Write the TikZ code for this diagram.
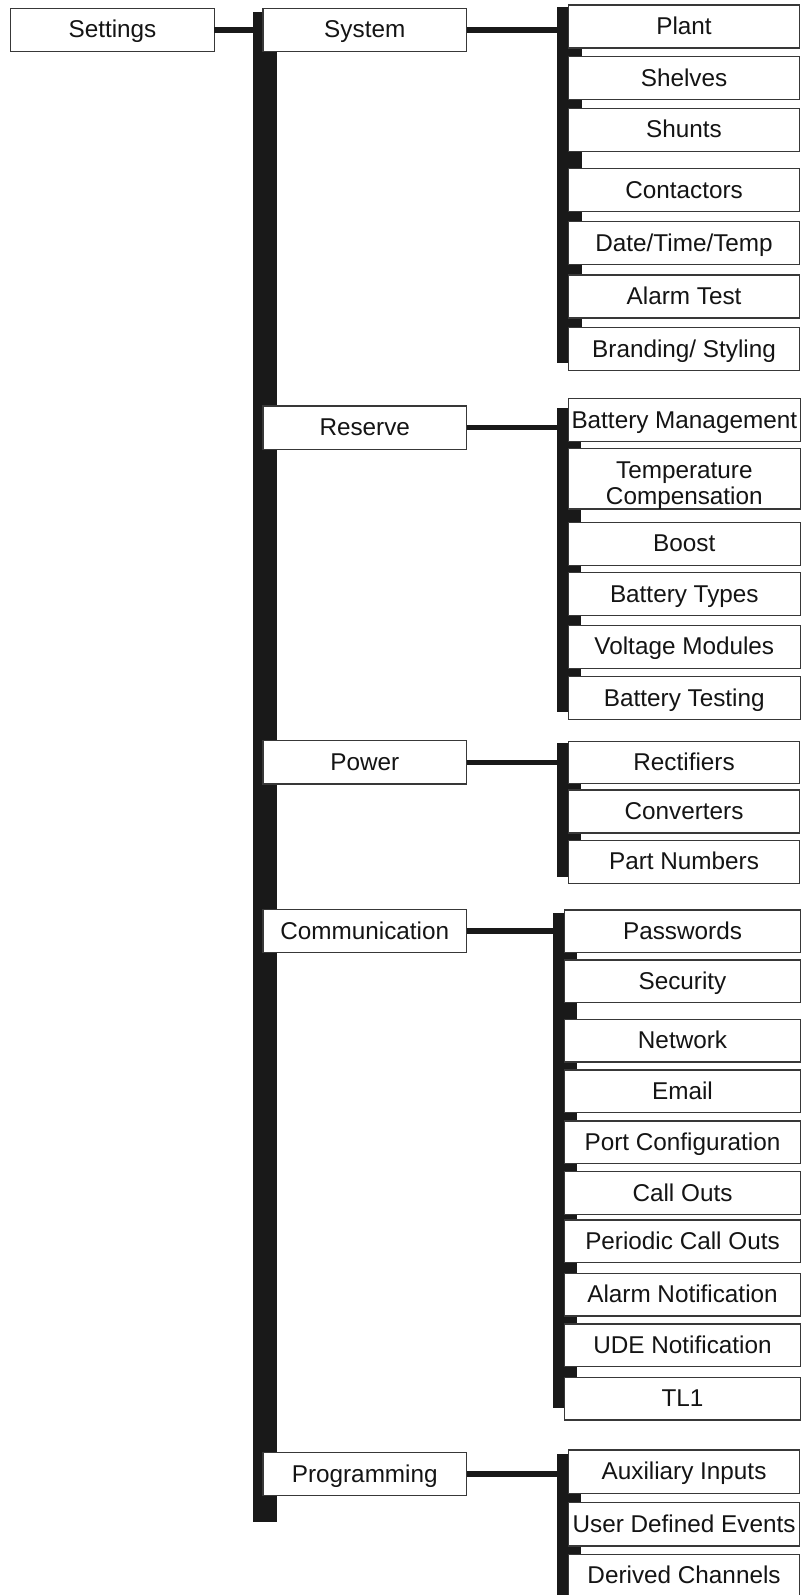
\documentclass[tikz,border=0pt]{standalone}
\usepackage{fontspec}
\setmainfont{Liberation Sans}
\begin{document}
\begin{tikzpicture}[x=1pt,y=-1pt,
  box/.style={draw=black!78, line width=1.2pt, fill=white, inner sep=0pt, outer sep=0pt,
    anchor=north west, align=center, text=black!92, text height=17.5pt, text depth=1.5pt,
    font=\fontsize{24.3}{27.5}\selectfont},
  mainbox/.style={box, minimum width=203.5pt, minimum height=43.3pt},
  subbox/.style={box, minimum width=231.5pt, minimum height=43pt},
  combox/.style={box, minimum width=236.4pt, minimum height=42.7pt},
  bar/.style={fill=black!90, draw=none, inner sep=0pt, outer sep=0pt, anchor=north west},
  conn/.style={draw=black!90, line width=5.5pt}]
\useasboundingbox[fill=white] (0,0) rectangle (803,1595);

% bars
\node[bar, minimum width=24pt, minimum height=1510pt] (mainbar) at (252.5,11.7) {};
\node[bar, minimum width=25pt, minimum height=355.4pt] (sysbar) at (556.7,7.3) {};
\node[bar, minimum width=24.5pt, minimum height=304pt] (resbar) at (556.7,408.3) {};
\node[bar, minimum width=24.5pt, minimum height=134pt] (powbar) at (556.7,743) {};
\node[bar, minimum width=24.5pt, minimum height=495.6pt] (combar) at (552.5,912.7) {};
\node[bar, minimum width=24.5pt, minimum height=150pt] (prgbar) at (556.7,1454) {};

% left column
\node[box, minimum width=203.6pt, minimum height=43.4pt] (settings) at (10.7,8.3) {Settings};
\node[mainbox] (system) at (263,8.3) {System};
\node[mainbox] (reserve) at (263,406) {Reserve};
\node[mainbox] (power) at (263,740.7) {Power};
\node[mainbox] (comm) at (263,909.5) {Communication};
\node[mainbox] (prog) at (263,1452.5) {Programming};

% System children
\node[subbox] (plant) at (568.3,5) {Plant};
\node[subbox] (shelves) at (568.3,56.7) {Shelves};
\node[subbox] (shunts) at (568.3,108.3) {Shunts};
\node[subbox] (contactors) at (568.3,168.5) {Contactors};
\node[subbox] (datetime) at (568.3,221.7) {Date/Time/Temp};
\node[subbox] (alarmtest) at (568.3,275) {Alarm Test};
\node[subbox] (branding) at (568.3,327.7) {Branding/ Styling};

% Reserve children
\node[subbox, minimum width=232pt, minimum height=43.4pt] (batman) at (568.3,398.3) {Battery Management};
\node[subbox, minimum width=232pt, minimum height=60.7pt, text height=51.7pt, text depth=0pt,
  font=\fontsize{24.3}{26.5}\selectfont] (tempcomp) at (568.3,448.3) {Temperature\\Compensation};
\node[subbox, minimum width=232pt, minimum height=42.5pt] (boost) at (568.3,522.7) {Boost};
\node[subbox, minimum width=232pt] (battypes) at (568.3,572.7) {Battery Types};
\node[subbox, minimum width=232pt] (voltmod) at (568.3,625.3) {Voltage Modules};
\node[subbox, minimum width=232pt, minimum height=42.6pt] (battest) at (568.3,676.7) {Battery Testing};

% Power children
\node[subbox, minimum height=42.5pt] (rect) at (568.3,741.2) {Rectifiers};
\node[subbox] (conv) at (568.3,790) {Converters};
\node[subbox] (partnum) at (568.3,840.3) {Part Numbers};

% Communication children
\node[combox] (passwords) at (564.3,910) {Passwords};
\node[combox] (security) at (564.3,960) {Security};
\node[combox] (network) at (564.3,1019.3) {Network};
\node[combox] (email) at (564.3,1070) {Email};
\node[combox] (portconf) at (564.3,1121) {Port Configuration};
\node[combox] (callouts) at (564.3,1171.7) {Call Outs};
\node[combox] (pcallouts) at (564.3,1220) {Periodic Call Outs};
\node[combox] (alarmnot) at (564.3,1273.3) {Alarm Notification};
\node[combox] (udenot) at (564.3,1324) {UDE Notification};
\node[combox] (tl1) at (564.3,1377.3) {TL1};

% Programming children
\node[subbox, minimum height=43.3pt] (auxin) at (568.3,1450) {Auxiliary Inputs};
\node[subbox, minimum height=43.3pt] (ude) at (568.3,1502.7) {User Defined Events};
\node[subbox, minimum height=43.3pt] (derived) at (568.3,1554.3) {Derived Channels};

% connectors
\draw[conn] (settings.east) -- (settings.east -| mainbar.west);
\draw[conn] (system.east) -- (system.east -| sysbar.west);
\draw[conn] (reserve.east) -- (reserve.east -| resbar.west);
\draw[conn] (power.east) -- (power.east -| powbar.west);
\draw[conn] (comm.east) -- (comm.east -| combar.west);
\draw[conn] (prog.east) -- (prog.east -| prgbar.west);
\end{tikzpicture}
\end{document}
